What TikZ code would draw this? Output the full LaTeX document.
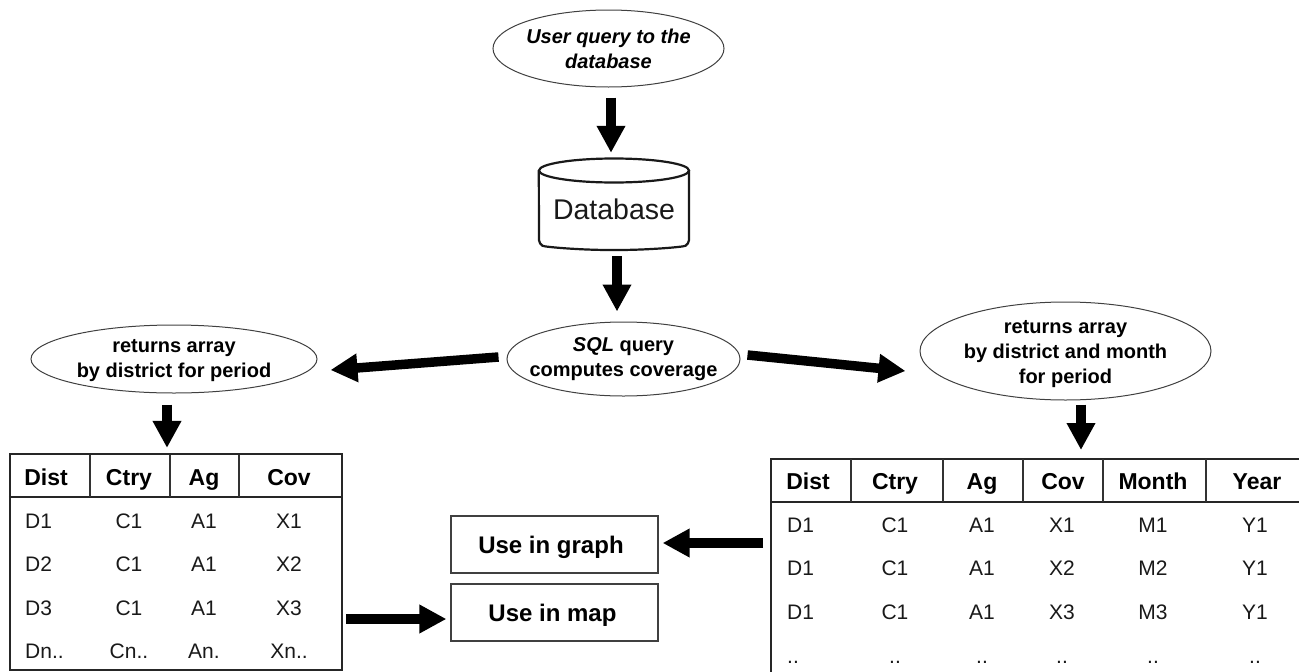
\documentclass[tikz,border=0pt]{standalone}
\usepackage{fontspec}
\setmainfont{Liberation Sans}
\usetikzlibrary{shapes.geometric,arrows.meta,calc}
\tikzset{
  oval/.style={ellipse,draw=black!75,line width=1pt,inner sep=-30pt,align=center,font=\fontsize{20}{25}\selectfont\bfseries},
  fat/.style={line width=9.5pt,-{Triangle[length=27pt,width=27pt]},black},
  outbox/.style={rectangle,draw=black!75,line width=1.2pt,inner sep=0pt,minimum width=207pt,minimum height=57pt,font=\fontsize{24}{26}\selectfont\bfseries},
  frame/.style={line width=2.2pt,black!85},
  grid/.style={line width=1.2pt,black!80},
  hd/.style={anchor=base,inner sep=0pt,font=\fontsize{23}{26}\selectfont\bfseries},
  cell/.style={anchor=base,inner sep=0pt,font=\fontsize{21}{24}\selectfont,text=black!90},
  leftcell/.style={anchor=base west,inner sep=0pt,font=\fontsize{21}{24}\selectfont,text=black!90},
}
\begin{document}
\begin{tikzpicture}[x=1pt,y=-1pt]
\useasboundingbox (0,0) rectangle (1299,672);
% ovals
\node[oval,minimum width=231pt,minimum height=77pt] (user) at (608.5,48.5) {\itshape User query to the\\\itshape database};
\node[oval,minimum width=233pt,minimum height=74pt] (sql) at (623.5,359) {\textit{SQL} query\\computes coverage};
\node[oval,minimum width=286pt,minimum height=68pt] (lret) at (174,359) {\rule{0pt}{16pt}returns array\\by district for period};
\node[oval,minimum width=291pt,minimum height=98pt] (rret) at (1065.5,351) {\rule{0pt}{20pt}returns array\\by district and month\\for period};
% database
\node[inner sep=0pt,minimum width=150pt,minimum height=92pt,font=\fontsize{28.5}{30}\selectfont,text=black!90] (db) at (614,204) {\raisebox{-15.5pt}[0pt][0pt]{Database}};
\draw[line width=2.2pt,black!90,rounded corners=4pt] (db.north west|-0,170.5) -- (539,244) .. controls (545,247) and (580,250) .. (614,250) .. controls (648,250) and (683,247) .. (689,244) -- (689,170.5);
\draw[line width=2.2pt,black!90] (614,170.5) ellipse [x radius=75,y radius=12];
% output boxes
\node[outbox] (graph) at (554.5,544.5) {\raisebox{-8.5pt}[0pt][0pt]{\hspace*{-7pt}Use in graph}};
\node[outbox] (map) at (554.5,612.5) {\raisebox{-8.5pt}[0pt][0pt]{\hspace*{-4pt}Use in map}};
% left table
\node[rectangle,frame,draw,inner sep=0pt,minimum width=332pt,minimum height=216pt] (ltab) at (176,562) {};
\coordinate (lhead) at (10,497);
\draw[frame,line width=1.6pt] (ltab.west|-lhead) -- (ltab.east|-lhead);
\foreach \x in {90,170,239} \draw[grid] (\x,455) -- (\x,497);
\foreach \t/\x [count=\i] in {Dist/46,Ctry/129,Ag/204,Cov/289}
  \node[hd] (lh\i) at (\x,485) {\t};
\foreach \a/\b/\c/\d/\y [count=\i] in {D1/C1/A1/X1/528,D2/C1/A1/X2/571,D3/C1/A1/X3/615,Dn../Cn../An./Xn../658}{
  \node[leftcell] (lr\i a) at (25,\y) {\a};
  \node[cell] (lr\i b) at (129,\y) {\b};
  \node[cell] (lr\i c) at (204,\y) {\c};
  \node[cell] (lr\i d) at (289,\y) {\d};
}
% right table
\coordinate (rtl) at (771,459);
\coordinate (rtr) at (1299,459);
\coordinate (rbl) at (771,672);
\coordinate (rhl) at (771,502);
\coordinate (rhr) at (1299,502);
\draw[frame] (rbl) -- (rtl) -- (rtr);
\draw[frame,line width=1.6pt] (rhl) -- (rhr);
\foreach \x in {851,943,1023,1103,1206} \draw[grid] (\x,459) -- (\x,502);
\foreach \t/\x [count=\i] in {Dist/808,Ctry/895,Ag/982,Cov/1063,Month/1153,Year/1257}
  \node[hd] (rh\i) at (\x,489) {\t};
\foreach \a/\b/\c/\d/\e/\f/\y [count=\i] in {D1/C1/A1/X1/M1/Y1/532,D1/C1/A1/X2/M2/Y1/575,D1/C1/A1/X3/M3/Y1/619,../../../../../../663}{
  \node[leftcell] (rr\i a) at (787,\y) {\a};
  \node[cell] (rr\i b) at (895,\y) {\b};
  \node[cell] (rr\i c) at (982,\y) {\c};
  \node[cell] (rr\i d) at (1062,\y) {\d};
  \node[cell] (rr\i e) at (1153,\y) {\e};
  \node[cell] (rr\i f) at (1255,\y) {\f};
}
% connectors
\draw[fat] ([shift={(2.5,10)}]user.south) -- ([shift={(-3,-5)}]db.north);
\draw[fat] ([shift={(3,6)}]db.south) -- ([shift={(-6.5,-10)}]sql.north);
\draw[fat] ([shift={(-8,-2)}]sql.west) -- ([shift={(13,11)}]lret.east);
\draw[fat] ([shift={(7,-4)}]sql.east) -- ([shift={(-14,20)}]rret.west);
\draw[fat] ([shift={(-7,11)}]lret.south) -- ([shift={(-9,-5)}]ltab.north);
\draw[fat] ([shift={(15.5,4)}]rret.south) -- ([shift={(15.5,-9)}]rret.south|-rtl);
\draw[fat] ([shift={(3,57)}]ltab.east) -- ([shift={(-4,6.5)}]map.west);
\draw[fat] ([shift={(-8,-1.5)}]rtl|-graph.east) -- ([shift={(4,-1.5)}]graph.east);
\end{tikzpicture}
\end{document}
